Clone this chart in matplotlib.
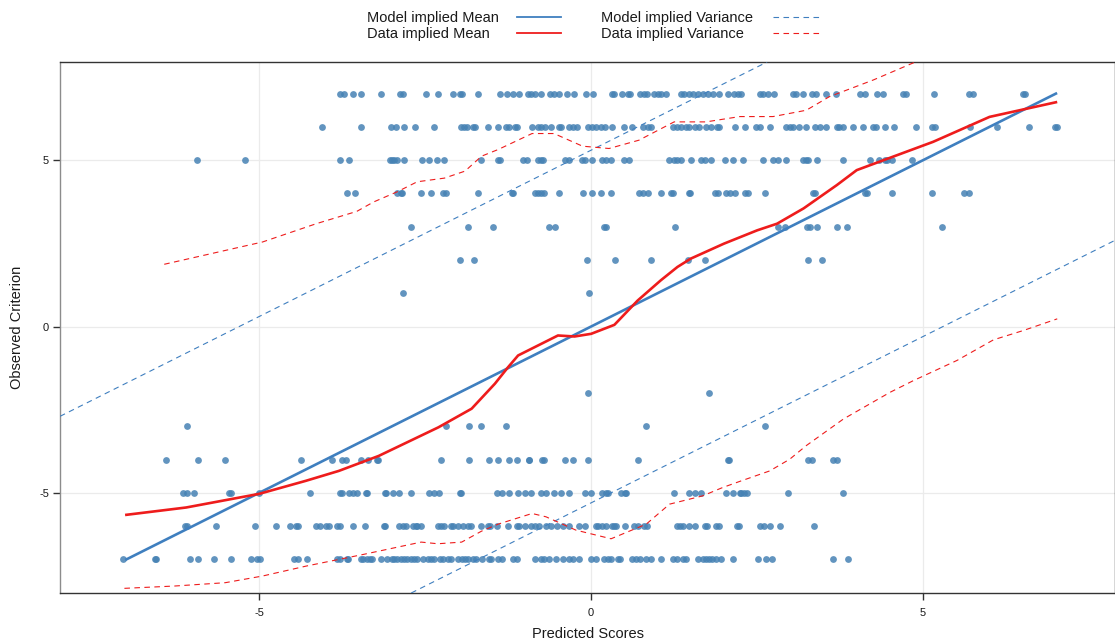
import numpy as np
import matplotlib
matplotlib.use("Agg")
import matplotlib.pyplot as plt
from matplotlib.lines import Line2D

plt.rcParams['font.family'] = ['Liberation Sans', 'DejaVu Sans']
plt.rcParams['axes.unicode_minus'] = False

# predicted scores of the cases at each observed criterion value
obs_p7 = [-3.78, -3.72, -3.59, -3.46, -3.17, -2.88, -2.84, -2.48, -2.30, -2.08, -1.97, -1.95,
          -1.70, -1.37, -1.26, -1.17, -1.09, -0.95, -0.90, -0.85, -0.75, -0.62, -0.56, -0.49,
          -0.37, -0.26, -0.08, 0.03, 0.31, 0.35, 0.46, 0.56, 0.58, 0.73, 0.80, 0.84, 0.95,
          1.00, 1.05, 1.12, 1.35, 1.40, 1.48, 1.54, 1.61, 1.68, 1.76, 1.83, 1.92, 2.06, 2.15,
          2.21, 2.26, 2.55, 2.59, 2.67, 2.75, 3.04, 3.09, 3.19, 3.32, 3.39, 3.54, 3.69, 4.05,
          4.12, 4.30, 4.40, 4.70, 4.74, 5.16, 5.69, 5.75, 6.51, 6.53]
obs_p6 = [-4.06, -3.46, -3.01, -2.94, -2.82, -2.65, -2.37, -1.96, -1.92, -1.87, -1.78, -1.75,
          -1.55, -1.41, -1.29, -1.24, -1.14, -1.11, -0.89, -0.80, -0.76, -0.69, -0.61, -0.48,
          -0.45, -0.33, -0.27, -0.22, -0.05, 0.02, 0.08, 0.15, 0.21, 0.32, 0.50, 0.62, 0.78,
          0.85, 0.90, 1.23, 1.29, 1.35, 1.43, 1.48, 1.57, 1.63, 1.73, 1.81, 1.89, 1.93, 2.16,
          2.31, 2.49, 2.55, 2.69, 2.94, 2.99, 3.04, 3.13, 3.24, 3.37, 3.44, 3.53, 3.70, 3.74,
          3.80, 3.94, 4.09, 4.25, 4.29, 4.43, 4.56, 4.90, 5.13, 5.18, 5.70, 6.12, 6.59, 6.99, 7.01]
obs_p5 = [-5.94, -5.22, -3.79, -3.64, -3.03, -3.00, -2.97, -2.93, -2.82, -2.55, -2.44, -2.32,
          -2.21, -1.66, -1.41, -1.37, -1.03, -0.96, -0.80, -0.76, -0.72, -0.40, -0.33, -0.14,
          -0.10, 0.02, 0.17, 0.22, 0.30, 0.50, 0.57, 1.18, 1.25, 1.30, 1.35, 1.51, 1.66, 1.71,
          1.81, 2.01, 2.14, 2.29, 2.59, 2.74, 2.81, 2.94, 3.19, 3.24, 3.27, 3.40, 3.79, 4.20,
          4.33, 4.43, 4.45, 4.53, 4.83]
obs_p4 = [-3.68, -3.55, -2.93, -2.87, -2.85, -2.57, -2.41, -2.23, -2.18, -1.70, -1.19, -1.17,
          -0.84, -0.80, -0.76, -0.71, -0.48, -0.13, 0.01, 0.15, 0.30, 0.72, 0.78, 0.85, 1.05,
          1.20, 1.23, 1.48, 1.49, 1.86, 1.91, 2.03, 2.09, 2.16, 2.31, 2.36, 2.62, 3.34, 3.37,
          4.12, 4.15, 4.53, 5.13, 5.62, 5.69]
obs_p3 = [-2.72, -1.86, -1.48, -0.64, -0.55, 0.20, 0.22, 1.27, 2.81, 2.92, 3.25, 3.29, 3.40,
          3.70, 3.86, 5.29]
obs_p2 = [-1.97, -1.77, -0.06, 0.36, 0.90, 1.46, 1.72, 3.27, 3.48]
obs_p1 = [-2.84, -0.03]
obs_m2 = [-0.04, 1.78]
obs_m3 = [-6.09, -2.18, -1.84, -1.66, -1.29, 0.82, 2.62]
obs_m4 = [-6.41, -5.92, -5.52, -4.37, -3.91, -3.76, -3.69, -3.46, -3.36, -3.22, -3.21, -2.26,
          -1.84, -1.54, -1.41, -1.23, -1.12, -0.94, -0.93, -0.74, -0.71, -0.40, -0.28, -0.05,
          0.71, 2.06, 2.07, 3.27, 3.33, 3.64, 3.70]
obs_m5 = [-6.15, -6.09, -5.98, -5.46, -5.43, -5.00, -4.24, -3.79, -3.76, -3.64, -3.59, -3.53,
          -3.39, -3.37, -3.11, -3.09, -2.98, -2.89, -2.72, -2.44, -2.36, -2.29, -1.98, -1.96,
          -1.42, -1.35, -1.24, -1.10, -0.99, -0.90, -0.76, -0.68, -0.56, -0.46, -0.33, -0.10,
          0.00, 0.17, 0.22, 0.25, 0.45, 0.51, 0.53, 1.25, 1.47, 1.57, 1.66, 2.03, 2.13, 2.24,
          2.26, 2.30, 2.34, 2.97, 3.79]
obs_m6 = [-6.12, -6.08, -5.65, -5.07, -4.75, -4.53, -4.44, -4.42, -4.14, -4.09, -3.99, -3.95,
          -3.83, -3.78, -3.58, -3.40, -3.12, -3.10, -2.90, -2.84, -2.79, -2.68, -2.64, -2.62,
          -2.57, -2.31, -2.26, -2.21, -2.11, -2.08, -2.01, -1.93, -1.86, -1.81, -1.66, -1.56,
          -1.53, -1.42, -1.25, -1.12, -1.08, -0.99, -0.91, -0.84, -0.79, -0.68, -0.61, -0.51,
          -0.43, -0.33, -0.18, -0.10, 0.08, 0.11, 0.17, 0.22, 0.31, 0.35, 0.38, 0.51, 0.65,
          0.70, 0.80, 0.84, 1.30, 1.34, 1.39, 1.47, 1.57, 1.72, 1.74, 1.88, 1.92, 2.19, 2.23,
          2.54, 2.60, 2.69, 2.85, 3.35]
obs_m7 = [-7.05, -6.57, -6.56, -6.04, -5.92, -5.68, -5.42, -5.12, -5.03, -4.99, -4.48, -4.42,
          -4.28, -3.83, -3.78, -3.68, -3.66, -3.46, -3.43, -3.37, -3.33, -3.30, -3.17, -3.08,
          -3.00, -2.97, -2.92, -2.87, -2.82, -2.77, -2.72, -2.67, -2.62, -2.54, -2.46, -2.41,
          -2.36, -2.28, -2.23, -2.16, -2.11, -2.01, -1.95, -1.90, -1.85, -1.78, -1.73, -1.65,
          -1.54, -1.51, -1.40, -1.34, -1.17, -1.12, -0.84, -0.76, -0.71, -0.63, -0.53, -0.43,
          -0.33, -0.28, -0.18, 0.00, 0.08, 0.20, 0.25, 0.30, 0.40, 0.43, 0.62, 0.67, 0.73,
          0.83, 0.90, 1.05, 1.23, 1.30, 1.38, 1.43, 1.61, 1.68, 1.73, 1.78, 1.82, 1.88, 1.96,
          2.14, 2.51, 2.64, 2.73, 3.65, 3.87]

levels = [7, 6, 5, 4, 3, 2, 1, -2, -3, -4, -5, -6, -7]
rows = [obs_p7, obs_p6, obs_p5, obs_p4, obs_p3, obs_p2, obs_p1,
        obs_m2, obs_m3, obs_m4, obs_m5, obs_m6, obs_m7]

pred = np.concatenate([np.array(r) for r in rows])
obs = np.concatenate([np.full(len(r), lv, dtype=float) for lv, r in zip(levels, rows)])

# model implied mean (identity) and +/- band for the variance
model_x = [-7, 7]
model_y = [-7, 7]
model_band = 5.3

# smoothed (data implied) mean and variance band
dmean_x = [-7.0, -6.1, -5.0, -4.3, -3.8, -3.2, -2.3, -1.8, -1.45, -1.25, -1.1, -0.8, -0.5,
           -0.25, 0.0, 0.35, 0.7, 1.05, 1.3, 1.5, 2.0, 2.5, 2.8, 3.2, 3.7, 4.0, 4.5, 5.15, 6.0, 7.0]
dmean_y = [-5.66, -5.44, -5.03, -4.64, -4.34, -3.89, -3.03, -2.47, -1.72, -1.22, -0.87, -0.57,
           -0.27, -0.30, -0.22, 0.05, 0.78, 1.39, 1.79, 2.04, 2.49, 2.89, 3.09, 3.55, 4.25, 4.7,
           5.07, 5.55, 6.3, 6.74]

dvar_hi_x = [-6.43, -4.95, -4.14, -3.53, -3.28, -2.92, -2.62, -2.21, -1.90, -1.65, -1.40,
             -0.89, -0.56, -0.13, 0.27, 0.72, 1.25, 1.73, 2.24, 2.74, 3.24, 3.59, 4.25, 5.0]
dvar_hi_y = [1.87, 2.54, 3.09, 3.46, 3.74, 4.05, 4.35, 4.46, 4.67, 5.12, 5.32,
             5.80, 5.80, 5.42, 5.35, 5.60, 6.15, 6.15, 6.31, 6.31, 6.50, 6.91, 7.41, 8.05]

dvar_lo_x = [-7.03, -6.27, -5.51, -4.95, -4.29, -3.43, -2.56, -2.31, -1.95, -1.65, -1.40,
             -0.89, -0.68, -0.23, 0.30, 0.83, 1.18, 1.48, 1.68, 1.98, 2.26, 2.69, 2.99, 3.24,
             3.80, 4.50, 4.85, 5.51, 6.06, 6.51, 7.02]
dvar_lo_y = [-7.87, -7.80, -7.70, -7.50, -7.20, -6.85, -6.48, -6.53, -6.48, -6.15, -5.94,
             -5.62, -5.72, -6.12, -6.38, -5.94, -5.34, -5.19, -5.09, -4.84, -4.64, -4.34, -3.99,
             -3.58, -2.78, -1.98, -1.63, -1.02, -0.40, -0.12, 0.23]

blue = '#3f7fbf'
red = '#ee1c1c'

fig = plt.figure(figsize=(11.15, 6.44), dpi=100)
ax = fig.add_axes([60 / 1115, 1 - 593 / 644, 1 - 60 / 1115, (593 - 62) / 644])

ax.scatter(pred, obs, s=24, color='#4682b4', alpha=0.85, linewidths=0, zorder=2)

ax.plot(model_x, model_y, color=blue, lw=1.9, zorder=4)
ax.axline((0, model_band), slope=1, color=blue, lw=0.8, dashes=(5, 4), zorder=3)
ax.axline((0, -model_band), slope=1, color=blue, lw=0.8, dashes=(5, 4), zorder=3)

ax.plot(dmean_x, dmean_y, color=red, lw=1.9, zorder=5)
ax.plot(dvar_hi_x, dvar_hi_y, color=red, lw=0.8, dashes=(5, 4), zorder=3)
ax.plot(dvar_lo_x, dvar_lo_y, color=red, lw=0.8, dashes=(5, 4), zorder=3)

ax.set_xlim(-8.0, 7.89)
ax.set_ylim(-8.01, 7.95)
ax.set_xticks([-5, 0, 5])
ax.set_yticks([-5, 0, 5])
ax.grid(color='#ebebeb', lw=0.9)
ax.set_axisbelow(True)
for side, sp in ax.spines.items():
    sp.set_color('#333333')
    sp.set_linewidth(1.0)
ax.spines['left'].set_color('#8c8c8c')
ax.tick_params(direction='out', length=5, width=1, color='#333333',
               labelsize=8, labelcolor='#1a1a1a', pad=6)
ax.tick_params(axis='y', pad=3)

ax.set_xlabel('Predicted Scores', fontsize=10.5, color='#1a1a1a')
ax.xaxis.set_label_coords(0.5, -0.064)
ax.set_ylabel('Observed Criterion', fontsize=10.5, color='#1a1a1a')
ax.yaxis.set_label_coords(-0.034, 0.5)

# legend drawn along the top, labels before their keys
leg_items = [
    ('Model implied Mean', blue, '-', 367, 517, 18),
    ('Data implied Mean', red, '-', 367, 517, 34),
    ('Model implied Variance', blue, '--', 601, 773, 18),
    ('Data implied Variance', red, '--', 601, 773, 34),
]
W, H = 1115, 644
for label, col, ls, tx, hx, ty in leg_items:
    fig.text(tx / W, 1 - ty / H, label, fontsize=10.5, color='#1a1a1a',
             ha='left', va='center')
    y = 1 - (ty - 1.5) / H
    if ls == '-':
        line = Line2D([hx / W, (hx + 44) / W], [y, y], color=col, lw=1.3,
                      transform=fig.transFigure)
    else:
        line = Line2D([hx / W, (hx + 46) / W], [y, y], color=col, lw=0.8,
                      dashes=(5, 4), transform=fig.transFigure)
    fig.add_artist(line)

fig.savefig('out.png', dpi=100)
